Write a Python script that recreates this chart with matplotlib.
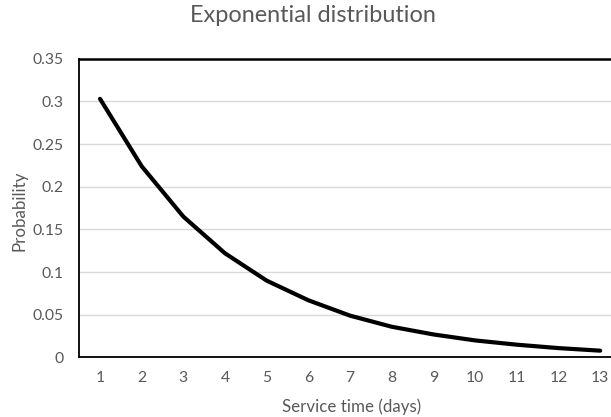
import numpy as np
import matplotlib
matplotlib.use("Agg")
import matplotlib.pyplot as plt

# Data
days = [1, 2, 3, 4, 5, 6, 7, 8, 9, 10, 11, 12, 13]
probability = [0.303, 0.224, 0.165, 0.122, 0.090, 0.067, 0.049,
               0.036, 0.027, 0.020, 0.015, 0.011, 0.008]
y_ticks = [0, 0.05, 0.1, 0.15, 0.2, 0.25, 0.3, 0.35]
y_tick_labels = ["0", "0.05", "0.1", "0.15", "0.2", "0.25", "0.3", "0.35"]

plt.rcParams['font.family'] = ['Lato', 'DejaVu Sans']
grey = '#595959'

fig = plt.figure(figsize=(6.11, 4.17), dpi=100)
ax = fig.add_axes([0.1296, 0.1427, 0.8704, 0.7165])

ax.plot(days, probability, color='black', linewidth=3.0, solid_capstyle='round')

ax.set_xlim(0.5, 13.26)
ax.set_ylim(0, 0.35)
ax.set_xticks(days)
ax.set_yticks(y_ticks)
ax.set_yticklabels(y_tick_labels)
ax.tick_params(length=0, labelsize=11.3, colors=grey)
ax.tick_params(axis='x', pad=9.5)
ax.tick_params(axis='y', pad=11.5)

ax.grid(axis='y', color='#d9d9d9', linewidth=1.0)
ax.set_axisbelow(True)

for side in ['left', 'bottom']:
    ax.spines[side].set_color('black')
    ax.spines[side].set_linewidth(1.3)
ax.spines['top'].set_color('black')
ax.spines['top'].set_linewidth(1.8)
ax.spines['right'].set_visible(False)

ax.set_xlabel("Service time (days)", fontsize=12.2, color=grey, va='center')
ax.xaxis.set_label_coords(0.513, -0.166)
ax.set_ylabel("Probability", fontsize=12.2, color=grey, va='center')
ax.yaxis.set_label_coords(-0.113, 0.49)
fig.text(0.512, 0.962, "Exponential distribution", ha='center', va='center',
         fontsize=16.9, color=grey)

fig.savefig("out.png", dpi=100)
